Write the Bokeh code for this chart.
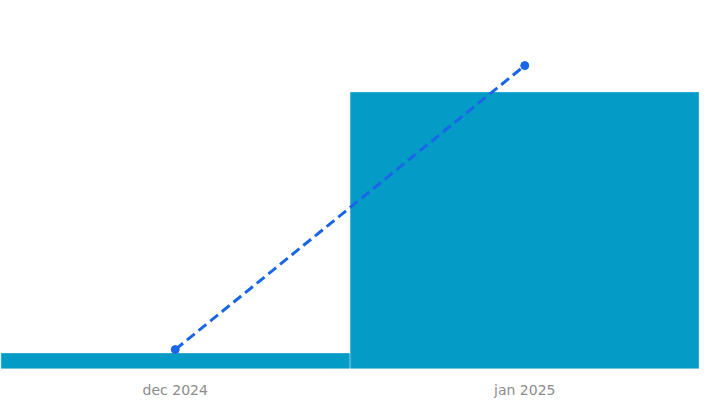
from bokeh.plotting import figure
from bokeh.models import Range1d, ColumnDataSource
from bokeh.embed import file_html
from bokeh.resources import INLINE

categories = ["dec 2024", "jan 2025"]
bar_values = [2.6, 48.0]
line_values = [5.0, 80.0]

source = ColumnDataSource(dict(cat=categories, bar=bar_values, line=line_values))

p = figure(x_range=categories, width=699, height=405, output_backend="svg",
           toolbar_location=None, min_border_left=0, min_border_right=0,
           min_border_top=0, min_border_bottom=37)
p.x_range.range_padding = 0
p.y_range = Range1d(0, 64.0)
p.extra_y_ranges = {"line": Range1d(0, 97.2)}

p.vbar(x="cat", top="bar", width=0.996, source=source,
       fill_color="#059bc7", line_color="#2aa8d0", line_width=1)

p.line(x="cat", y="line", source=source, y_range_name="line",
       line_color="#1a66e8", line_width=3, line_dash="10 5")
p.scatter(x="cat", y="line", source=source, y_range_name="line",
          size=8, fill_color="#1a66e8", line_color="#1a66e8")

p.yaxis.visible = False
p.xaxis.axis_line_color = None
p.xaxis.major_tick_line_color = None
p.xaxis.minor_tick_line_color = None
p.xaxis.major_label_text_color = "#8c8c8c"
p.xaxis.major_label_text_font = "DejaVu Sans"
p.xaxis.major_label_text_font_size = "14px"
p.xaxis.major_label_standoff = 7
p.xgrid.visible = False
p.ygrid.visible = False
p.outline_line_color = None

open("out.html", "w").write(file_html(p, INLINE))
